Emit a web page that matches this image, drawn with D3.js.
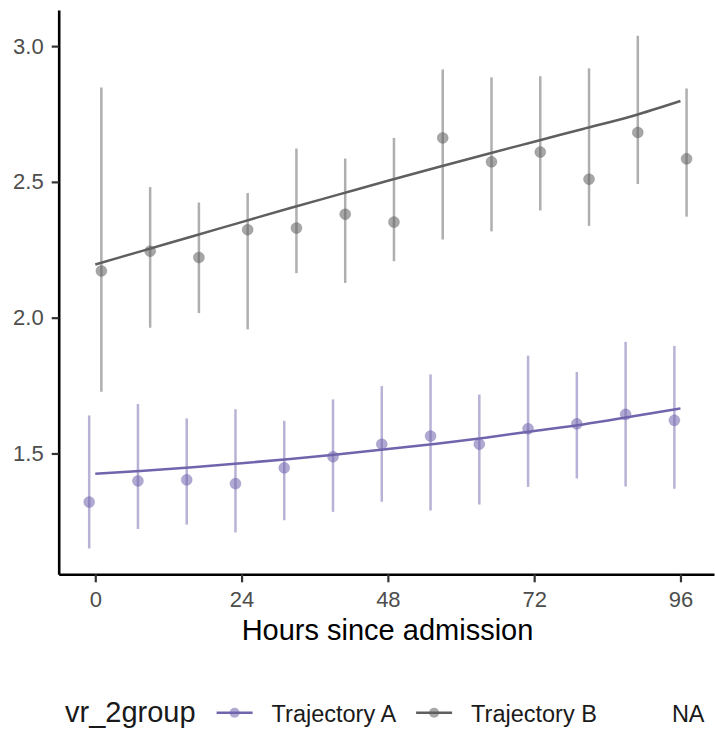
<!DOCTYPE html>
<html>
<head>
<meta charset="utf-8">
<script src="https://cdn.jsdelivr.net/npm/d3@7"></script>
<style>
  body { margin: 0; background: #fff; }
  svg { display: block; font-family: "Liberation Sans", Arial, sans-serif; }
</style>
</head>
<body>
<svg id="chart" width="715" height="736"></svg>
<script>
// hours since admission (A dodged -1h, B dodged +1h)
const hours = [0, 8, 16, 24, 32, 40, 48, 56, 64, 72, 80, 88, 96]
const xTicks = [0, 24, 48, 72, 96]
const yTicks = [1.5, 2.0, 2.5, 3.0]
const groups = ["Trajectory A", "Trajectory B", "NA"]

const meanA = [1.321, 1.399, 1.403, 1.389, 1.447, 1.488, 1.534, 1.564, 1.534, 1.591, 1.609, 1.644, 1.622]
const lowA  = [1.150, 1.222, 1.238, 1.209, 1.254, 1.285, 1.322, 1.290, 1.312, 1.377, 1.408, 1.378, 1.370]
const highA = [1.640, 1.682, 1.629, 1.663, 1.620, 1.699, 1.748, 1.791, 1.717, 1.860, 1.800, 1.911, 1.896]
const fitA  = [1.425, 1.436, 1.449, 1.464, 1.480, 1.497, 1.516, 1.536, 1.558, 1.583, 1.607, 1.636, 1.666]

const meanB = [2.172, 2.245, 2.222, 2.324, 2.330, 2.381, 2.352, 2.662, 2.574, 2.610, 2.510, 2.682, 2.585]
const lowB  = [1.727, 1.963, 2.017, 1.957, 2.164, 2.128, 2.208, 2.288, 2.318, 2.395, 2.338, 2.492, 2.372]
const highB = [2.848, 2.481, 2.424, 2.459, 2.623, 2.586, 2.662, 2.914, 2.885, 2.889, 2.918, 3.038, 2.844]
const fitB  = [2.196, 2.248, 2.300, 2.352, 2.404, 2.454, 2.504, 2.553, 2.601, 2.648, 2.695, 2.742, 2.798]

const colA = "#6f65ad"
const colB = "#5f5f5f"

var series = [
  { name: groups[0], color: colA, dodge: -1, mean: meanA, low: lowA, high: highA, fit: fitA },
  { name: groups[1], color: colB, dodge: 1, mean: meanB, low: lowB, high: highB, fit: fitB }
]

var svg = d3.select("#chart")

var x = d3.scaleLinear().domain([-6, 101.5]).range([58.7, 714])
var y = d3.scaleLinear().domain([1.055, 3.133]).range([574.3, 10])

// error bars and means
series.forEach(s => {
  var g = svg.append("g")
  g.selectAll("line")
    .data(hours)
    .enter()
    .append("line")
      .attr("x1", (h, i) => x(h + s.dodge))
      .attr("x2", (h, i) => x(h + s.dodge))
      .attr("y1", (h, i) => y(s.low[i]))
      .attr("y2", (h, i) => y(s.high[i]))
      .attr("stroke", s.color)
      .attr("stroke-opacity", 0.5)
      .attr("stroke-width", 2.5)

  g.selectAll("circle")
    .data(hours)
    .enter()
    .append("circle")
      .attr("cx", (h, i) => x(h + s.dodge))
      .attr("cy", (h, i) => y(s.mean[i]))
      .attr("r", 5.5)
      .attr("fill", s.color)
      .attr("fill-opacity", 0.55)
      .attr("stroke", s.color)
      .attr("stroke-opacity", 0.25)
      .attr("stroke-width", 1)
})

// fitted trajectories
var line = d3.line()
  .x(d => x(d[0]))
  .y(d => y(d[1]))
  .curve(d3.curveMonotoneX)

series.forEach(s => {
  svg.append("path")
    .datum(hours.map((h, i) => [h, s.fit[i]]))
    .attr("d", line)
    .attr("fill", "none")
    .attr("stroke", s.color)
    .attr("stroke-width", 2.5)
})

// axes
var xAxis = svg.append("g")
  .attr("transform", "translate(0,574.3)")
  .call(d3.axisBottom(x).tickValues(xTicks).tickSize(8).tickSizeOuter(0).tickPadding(9))

var yAxis = svg.append("g")
  .attr("transform", "translate(58.7,0)")
  .call(d3.axisLeft(y).tickValues(yTicks).tickFormat(d3.format(".1f")).tickSize(7).tickSizeOuter(0).tickPadding(8))

;[xAxis, yAxis].forEach(ax => {
  ax.select(".domain").attr("stroke", "#000").attr("stroke-width", 2.6)
  ax.selectAll(".tick line").attr("stroke", "#333").attr("stroke-width", 2.2)
  ax.selectAll(".tick text")
    .attr("fill", "#4d4d4d")
    .style("font-size", "22px")
    .style("font-family", "'Liberation Sans', Arial, sans-serif")
})

svg.append("text")
  .attr("x", 387.5)
  .attr("y", 640)
  .attr("text-anchor", "middle")
  .style("font-size", "29px")
  .attr("fill", "#000")
  .text("Hours since admission")

// legend, laid out left to right
var legend = svg.append("g").attr("transform", "translate(65,721.7)")
var title = legend.append("text")
  .style("font-size", "29px")
  .attr("fill", "#1a1a1a")
  .text("vr_2group")

var cursor = title.node().getComputedTextLength() + 21
var keyW = 36

groups.forEach((name, i) => {
  var s = series[i]
  if (s) {
    legend.append("line")
      .attr("x1", cursor).attr("x2", cursor + keyW)
      .attr("y1", -9).attr("y2", -9)
      .attr("stroke", s.color)
      .attr("stroke-width", 2.5)
    legend.append("circle")
      .attr("cx", cursor + keyW / 2).attr("cy", -9)
      .attr("r", 5)
      .attr("fill", s.color)
      .attr("fill-opacity", 0.55)
  }
  cursor += keyW + 19
  var t = legend.append("text")
    .attr("x", cursor)
    .style("font-size", "23.5px")
    .attr("fill", "#1a1a1a")
    .text(name)
  cursor += t.node().getComputedTextLength() + 20
})
</script>
</body>
</html>
